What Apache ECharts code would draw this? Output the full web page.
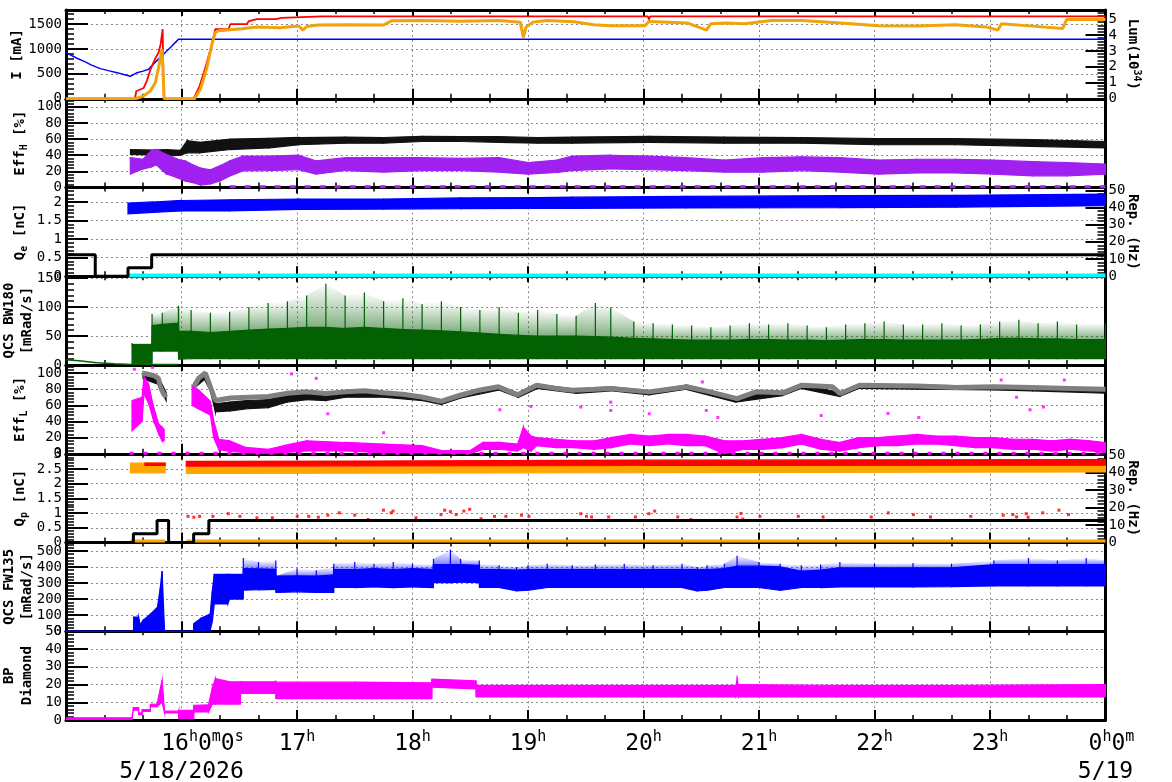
<!DOCTYPE html>
<html>
<head>
<meta charset="utf-8">
<title>Beam monitor 5/18/2026</title>
<script src="https://cdn.jsdelivr.net/npm/echarts@6/dist/echarts.min.js"></script>
<style>
  html, body { margin: 0; padding: 0; background: #fff; }
  #chart { width: 1172px; height: 782px; }
</style>
</head>
<body>
<div id="chart"></div>
<script>
// x values are minutes after 15:00 on 5/18/2026
const hourTicks = [60, 120, 180, 240, 300, 360, 420, 480, 540];
const hourNames = ['16', '17', '18', '19', '20', '21', '22', '23', '0'];
const startDate = '5/18/2026';
const endDate = '5/19';

// panel 1: currents [mA] (left) and luminosity [1e34] (right)
const herCurrent = [[0,927],[5.7,813],[10,740],[13,680],[17.8,605],[22,565],[26.5,524],[30,485],[33.4,451],[36.9,524],[40,555],[42.9,591],[46.5,740],[50.7,895],[54.5,1040],[58.5,1197],[540,1197]];
const lerCurrent = [[0,0],[35.8,0],[36.5,150],[37.5,190],[40.3,215],[42,360],[44,600],[46.5,820],[48,920],[49.2,1100],[50.2,1399],[50.8,0],[66.3,0],[69.4,255],[72.4,625],[75.3,1028],[77.6,1399],[84.5,1399],[85.4,1500],[94,1500],[95,1560],[99.2,1600],[109,1600],[112,1625],[133,1653],[302.3,1653],[302.8,1590],[303.5,1653],[540,1653]];
const luminosity = [[0,0],[36,0],[40.3,0.17],[43.8,0.48],[46.4,1.0],[48.1,1.95],[49.9,3.1],[50.6,3.2],[51,0],[66.8,0],[69.8,0.59],[73.2,1.95],[75.8,3.42],[77.6,4.15],[79.3,4.26],[85.4,4.33],[91.3,4.38],[99.2,4.5],[111,4.45],[121,4.56],[123,4.3],[125,4.52],[131,4.62],[145,4.63],[165,4.62],[169,4.88],[185,4.9],[205,4.86],[225,4.9],[236,4.8],[237.6,3.84],[239,4.5],[242.5,4.8],[250,4.9],[264,4.83],[274,4.64],[283,4.58],[300.8,4.58],[302.8,4.84],[322.7,4.75],[332.7,4.3],[335,4.7],[342.6,4.75],[352.6,4.7],[366.5,4.9],[382.4,4.9],[402.3,4.75],[422.2,4.58],[442.1,4.55],[462,4.63],[478,4.5],[484,4.3],[486,4.7],[502,4.55],[517.8,4.4],[519.8,4.96],[540,4.96]];

// panel 2: Eff_H [%], bands [t, low, high]
const effHBlack = [[33.5,41,47],[45.5,40,46.5],[52,39,47],[59.4,40,46],[63,43,58],[69.4,43,56],[85.3,47,60],[105,49,61],[121,53,62],[145,55,62.5],[165,55,62],[185,57,63.5],[205,57,63],[225,56,63],[245,55,62],[263,55,62.5],[303,56,63.5],[342,55,62.5],[382,55,62],[422,53,60.5],[462,53,60.5],[502,51,59.5],[540,49,57]];
const effHPurple = [[33.4,16.5,37],[40,23,35],[44,25,45],[47,28,47],[52,17,41],[58,12,35],[62,8,33],[66,6,28],[70,3,24],[75,4.5,22],[80,8,27],[85,14,33],[92,20.7,39],[105,21,39],[121,22,40],[130,16.5,33],[145,21,37],[165,19,37],[185,21,37],[205,21,36],[225,19,37],[240,16.5,31],[255,18.6,34],[263,21,39],[283,23,40],[303,22,39],[322,21,37],[342,19,34],[362,19,37],[382,21,38],[402,19,37],[422,16.5,34],[442,18,35],[462,18,35],[482,16.5,34],[502,14.5,32],[520,14.5,31],[540,16.5,29]];
const effHZero = [[85,0.8],[540,0.8]];

// panel 3: Q_e [nC] band (left), injection rate [Hz] (right)
const qeBand = [[32.2,1.68,1.97],[45,1.72,2.0],[60,1.76,2.04],[85,1.76,2.06],[121,1.8,2.08],[165,1.81,2.08],[205,1.82,2.11],[245,1.83,2.12],[263,1.83,2.13],[322,1.84,2.15],[402,1.85,2.17],[462,1.86,2.18],[540,1.9,2.21]];
const repE = [[0,12.5],[15.2,12.5],[15.2,0],[32.2,0],[32.2,5],[44.5,5],[44.5,12.5],[540,12.5]];
const repECyan = [[32.2,0.4],[540,0.4]];

// panel 4: QCS BW180 [mRad/s], [t, low, high, peak]
const bw180Decay = [[0,9],[8,7],[16,4],[25,2],[34.3,1],[58.5,1]];
const bw180 = [[34.3,2,35,38],[44.6,2,35,38],[44.7,24,68,88],[50,24,70,90],[58.4,24,72,102],[58.5,10,58,100],[65,11,58,95],[75,11,56,90],[85,11,58,92],[95,11,60,100],[105,11,62,107],[115,11,63,110],[125,11,65,120],[135,11,65,140],[145,11,63,120],[155,11,65,125],[165,11,63,110],[175,11,61,115],[185,11,60,105],[195,11,59,110],[205,11,57,100],[215,11,55,95],[225,11,53,100],[235,11,51,90],[245,11,50,95],[255,11,50,88],[265,11,50,85],[275,11,49,107],[283,11,48,99],[295,11,46,75],[305,11,45,72],[315,11,44,70],[325,11,43,68],[335,11,43,65],[345,11,43,68],[355,11,44,72],[365,11,44,70],[375,11,43,72],[385,11,43,68],[395,11,42,65],[405,11,43,70],[415,11,44,72],[425,11,44,75],[435,11,43,70],[445,11,43,70],[455,11,43,72],[465,11,43,68],[475,11,44,70],[485,11,46,75],[495,11,46,78],[505,11,45,72],[515,11,45,75],[525,11,44,70],[540,11,44,72]];

// panel 5: Eff_L [%]
const effLGray = [[39.5,100],[45.5,97],[48.1,93],[49,83],[50.5,75],[52,70],null,[66.4,83],[68.9,93.6],[72.4,100],[75,83],[77.6,66],[80,67],[85.3,69],[95.2,70],[105.2,71],[115.1,75],[125.1,76.7],[135,74.6],[145,76.7],[155,78],[164.9,75.5],[174.9,73.8],[184.8,70.4],[194.8,65],[204.7,72.5],[214.7,78.8],[224.6,83],[234.6,73],[244.5,85],[254.5,81],[263,78.8],[274.4,80],[283,81],[303,76.7],[322.6,83],[334.5,76.7],[348.6,68.3],[358.4,76.7],[372.3,75.5],[382.3,85],[398.2,83],[402.2,74.6],[412.2,85],[442,84],[461.9,82],[481.8,83],[501.7,82],[521.6,81],[540,80]];
const effLBlack = [[40,93,99],[48,86,95],[52,66,76],null,[66.4,81,88],[72,92,100],[75,78,86],[77.6,52,62],[85,53,64],[95,56,66],[105,57,67],[115,64,73],[125,67,75],[135,66,73],[145,70,76],[165,70,76],[185,66,71],[195,61,66],[205,69,74],[225,79,84],[235,70,75],[245,81,86],[265,75,80],[283,78,83],[303,73,78],[322,80,85],[348,64,70],[372,72,77],[382,81,86],[402,71,76],[412,81,86],[442,80,85],[482,79,84],[502,78,83],[540,75,80]];
const effLMagenta = [[34.3,28.5,66],[39.5,40,70],[40.5,74,95.6],[43,62,85],[45.5,41,58],[48.1,25,37],[49.9,16,33],[51,16,30],null,[65.5,60,85],[69.4,55,78],[75,48,65],[76.7,20,41],[79.4,5,18],[85,3,16],[93.2,1.3,8],[105,0,5.5],[113,1.3,10],[125,3.4,16],[145,3.4,14],[165,1.3,12],[185,1.3,10],[195,0,4],[210,0,4],[216.6,5.5,14],[225,5.5,14],[234.6,3.4,12],[237.6,7.5,33],[241.5,3.4,22],[244.5,10,20],[254.5,7.5,18],[264.4,7.5,16],[274.4,5.5,16],[283,7.5,20],[293,12,24],[303,10,22],[313,12,24],[322,10,24],[332,10,22],[342,0,16],[352,5.5,16],[362,5.5,18],[372,7.5,20],[382,12,24],[392,5.5,18],[402,3.4,14],[412,7.5,20],[422,10,20],[432,10,22],[442,12,24],[452,12,22],[462,10,22],[472,7.5,20],[482,7.5,20],[492,5.5,18],[502,5.5,18],[512,3.4,16],[522,5.5,18],[532,3.4,16],[540,1.3,14]];
const effLOutliers = [[35.5,104.8],[44.9,107],[117.1,99],[130,93.5],[136,49.5],[165,26],[225.4,54.5],[241.5,58.7],[267.4,57.9],[283,64],[283,53.7],[303,49.5],[330.6,89],[332.6,53.7],[338.6,45],[392.3,47.4],[427,50],[443,45],[485.8,91.4],[493.8,70],[500.8,54.5],[507.8,58],[518.6,91.4]];
const effLZero = [[33,0.6],[540,0.6]];

// panel 6: Q_p [nC] (left), injection rate [Hz] (right)
const qpOrange = [[33.5,2.37,2.7],[51.5,2.37,2.7],null,[62.5,2.35,2.64],[150,2.36,2.64],[300,2.38,2.65],[540,2.4,2.66]];
const qpRed = [[41,2.62,2.7],[51.5,2.62,2.7],null,[62.5,2.6,2.76],[150,2.61,2.77],[300,2.62,2.8],[540,2.63,2.82]];
const qpOrangeLow = [[33.5,0.05],[51.5,0.05],null,[62.5,0.05],[540,0.05]];
const repP = [[0,0],[35,0],[35,5],[47.3,5],[47.3,12.5],[53.3,12.5],[53.3,0],[66.3,0],[66.3,5],[74.2,5],[74.2,12.5],[540,12.5]];
const qpRedDots = [[63.4,0.89],[66.4,0.86],[69.4,0.89],[76.3,0.89],[84.3,0.98],[90.3,0.89],[99.2,0.84],[107.2,0.84],[120.1,0.89],[126.1,0.89],[131.1,0.86],[136,0.93],[142,1.01],[150,0.93],[156.9,0.78],[164.9,1.1],[168.9,1.01],[169.9,1.07],[181.8,0.84],[194.8,0.95],[196.7,1.1],[199.7,1.05],[202.7,0.95],[206.7,1.07],[209.7,1.13],[215.6,0.81],[222.6,0.89],[228.5,0.89],[236.6,0.93],[240.5,0.89],[267.4,0.98],[270.4,0.89],[273,0.87],[281.9,0.87],[295.8,0.87],[302.8,0.98],[305.8,1.07],[317.8,0.87],[324.7,0.78],[348.6,0.87],[350.6,0.99],[351.6,0.8],[360.5,0.89],[380.4,0.89],[393.3,0.87],[418.3,0.87],[427.2,1.01],[440.2,0.95],[449.1,0.87],[470,0.89],[486.9,0.93],[491.9,0.95],[493.8,0.87],[498.8,0.98],[499.8,0.86],[507.4,1.01],[515.8,1.1],[520.8,0.95]];

// panel 7: QCS FW135 [mRad/s], [t, low, high, peak]
const fw135Off = [[0,0],[35.1,0],null,[51.2,0],[66.3,0]];
const fw135 = [[35.1,3,88,null],[37.7,3,88,null],[38.6,3,40,null],[40,4,67,null],[44,5,108,null],[47.5,6,149,null],[49,8,272,null],[49.9,10,374,null],[51.2,0,0,null],null,[66.3,2,47,null],[70,4,80,null],[74.9,6,108,null],[76,60,250,null],[77,170,354,null],[84,170,354,null],[85,200,354,null],[92,200,354,null],[92.1,255,390,456],[100,258,388,430],[109,260,385,440],[109.1,241,343,null],[120,245,345,390],[130,241,343,380],[139,241,350,400],[139.1,272,384,420],[150,272,384,430],[160,275,390,420],[170,272,384,430],[180,275,390,420],[190.8,272,384,420],[190.9,303,415,450],[199.7,303,415,507],[205,305,415,450],[214.7,303,410,440],[214.8,272,384,420],[225,272,384,410],[234,251,380,400],[240,255,384,410],[250,272,384,420],[263,272,384,410],[275,272,384,415],[290,272,384,420],[305,272,384,410],[320,272,384,420],[328,251,384,400],[333,255,384,410],[342,272,390,420],[348.6,272,405,470],[360,272,405,430],[371,255,400,420],[382,272,374,410],[392,272,380,415],[402,276,395,430],[420,276,395,420],[440,276,395,425],[460,278,395,420],[482,282,415,440],[500,282,415,456],[515,282,415,440],[530,282,415,456],[540,282,415,440]];

// panel 8: BP Diamond, [t, low, high]
const bpDiamond = [[0,0.3,1.2],[34.3,0.3,1.2],[35,5.5,7],[37.7,5.5,7],[37.8,3,4],[39.5,3,4],[39.6,4.8,5.8],[43.8,4.8,5.8],[43.9,7.5,8.8],[47.3,7.5,9],[49.9,10,22.5],[51.2,4,5],[58.5,4,5],[58.6,0.8,5.4],[66.3,0.8,5.4],[66.4,4.5,8.3],[74,4.5,8.5],[76,9,18],[77.6,9,23.3],[85,9,21.5],[90.6,9,21.5],[90.7,15,21.5],[109,15,21.5],[109.1,12,21.3],[150,12,21.3],[190,12,21],[190.1,18.5,23],[213,17.5,22],[213.1,13,19.5],[263,13,19.5],[300,13,19.5],[348,13,19.5],[348.6,14,22.7],[349.2,13,20],[400,13,19.5],[460,13,19.5],[540,13,20]];

const MONO = 'DejaVu Sans Mono';
const TOP = 10, PH = 88.75, LEFT = 66, RIGHT = 66.5;

const panels = [
  { name: '{b|I [mA]}', gap: 40, min: 0, max: 1782, interval: 500,
    right: { name: '{b|Lum(10}{sp|34}{b|)}', min: 0, max: 5.56, interval: 1 } },
  { name: '{b|Eff}{sb|H}{b| [%]}', gap: 37, min: 0, max: 110, interval: 20 },
  { name: '{b|Q}{sb|e}{b| [nC]}', gap: 37, min: 0, max: 2.39, interval: 0.5,
    right: { name: '{b|Rep. (Hz)}', min: 0, max: 51.6, interval: 10 } },
  { name: '{b|QCS BW180}\n{b|[mRad/s]}', gap: 30, min: 0, max: 153, interval: 50 },
  { name: '{b|Eff}{sb|L}{b| [%]}', gap: 37, min: 0, max: 110, interval: 20 },
  { name: '{b|Q}{sb|p}{b| [nC]}', gap: 37, min: 0, max: 3.02, interval: 0.5,
    right: { name: '{b|Rep. (Hz)}', min: 0, max: 50.7, interval: 10 } },
  { name: '{b|QCS FW135}\n{b|[mRad/s]}', gap: 30, min: 0, max: 552, interval: 100 },
  { name: '{b|BP}\n{b|Diamond}', gap: 30, min: 0, max: 50, interval: 10, showMax: true }
];

const nameRich = {
  b: { fontFamily: MONO, fontSize: 14, fontWeight: 'bold', color: '#000', lineHeight: 18 },
  sb: { fontFamily: MONO, fontSize: 10, fontWeight: 'bold', color: '#000', verticalAlign: 'bottom', lineHeight: 10 },
  sp: { fontFamily: MONO, fontSize: 10, fontWeight: 'bold', color: '#000', verticalAlign: 'top', lineHeight: 10 }
};
const dotted = { color: '#8a8a8a', width: 1, type: [2, 3] };
const plainNumber = function (v) { return String(v); };

const grids = [], xAxes = [], yAxes = [];
panels.forEach(function (p, i) {
  const last = i === panels.length - 1;
  grids.push({ left: LEFT, right: RIGHT, top: TOP + i * PH, height: PH, outerBoundsMode: 'none' });
  xAxes.push({
    type: 'value', gridIndex: i, position: 'bottom', min: 0, max: 540, interval: 60,
    axisLine: { onZero: false, lineStyle: { color: '#000', width: 3 } },
    axisTick: { inside: true, length: 10, lineStyle: { color: '#000', width: 2 } },
    minorTick: { show: true, splitNumber: 3, length: 5, lineStyle: { color: '#000', width: 1.5 } },
    splitLine: { show: true, lineStyle: dotted },
    axisLabel: {
      show: last, margin: 10, showMinLabel: true, showMaxLabel: true,
      formatter: function (v) {
        const k = hourTicks.indexOf(v);
        if (k < 0) return '';
        if (k === 0) return '{pad|}{n|' + hourNames[k] + '}{s|h}{n|0}{s|m}{n|0}{s|s}\n{d|' + startDate + '}';
        if (k === hourTicks.length - 1) return '{pad2|}{n|' + hourNames[k] + '}{s|h}{n|0}{s|m}\n{d|' + endDate + '}';
        return '{n|' + hourNames[k] + '}{s|h}';
      },
      rich: {
        n: { fontFamily: MONO, fontSize: 23, color: '#000', lineHeight: 28 },
        s: { fontFamily: MONO, fontSize: 15, color: '#000', verticalAlign: 'top', lineHeight: 14 },
        d: { fontFamily: MONO, fontSize: 23, color: '#000', lineHeight: 28 },
        pad: { width: 42 },
        pad2: { width: 12 }
      }
    }
  });
  xAxes.push({
    type: 'value', gridIndex: i, position: 'top', min: 0, max: 540, interval: 60,
    axisLine: { onZero: false, lineStyle: { color: '#000', width: 3 } },
    axisTick: { inside: true, length: 6, lineStyle: { color: '#000', width: 2 } },
    minorTick: { show: true, splitNumber: 3, length: 4, lineStyle: { color: '#000', width: 1.5 } },
    splitLine: { show: false }, axisLabel: { show: false }
  });
  yAxes.push({
    type: 'value', gridIndex: i, position: 'left', min: p.min, max: p.max, interval: p.interval,
    axisLine: { show: true, onZero: false, lineStyle: { color: '#000', width: 3 } },
    axisTick: { inside: true, length: 22, lineStyle: { color: '#000', width: 2 } },
    minorTick: { show: true, splitNumber: 5, length: 8, lineStyle: { color: '#000', width: 1.5 } },
    splitLine: { show: true, lineStyle: dotted },
    axisLabel: { color: '#000', fontFamily: MONO, fontSize: 14, margin: 4, formatter: plainNumber,
      showMinLabel: true, showMaxLabel: !!p.showMax },
    name: p.name, nameLocation: 'middle', nameRotate: 90, nameGap: p.gap, nameMoveOverlap: false,
    nameTextStyle: { fontFamily: MONO, color: '#000', rich: nameRich }
  });
  const r = p.right;
  yAxes.push({
    type: 'value', gridIndex: i, position: 'right',
    min: r ? r.min : 0, max: r ? r.max : 1, interval: r ? r.interval : 1,
    axisLine: { show: true, onZero: false, lineStyle: { color: '#000', width: 3 } },
    axisTick: { show: !!r, inside: true, length: 20, lineStyle: { color: '#000', width: 2 } },
    minorTick: { show: !!r, splitNumber: 5, length: 8, lineStyle: { color: '#000', width: 1.5 } },
    splitLine: { show: false },
    axisLabel: { show: !!r, color: '#000', fontFamily: MONO, fontSize: 14, margin: 3, formatter: plainNumber,
      showMinLabel: true, showMaxLabel: false },
    name: r ? r.name : '', nameLocation: 'middle', nameRotate: -90, nameGap: 18, nameMoveOverlap: false,
    nameTextStyle: { fontFamily: MONO, color: '#000', rich: nameRich }
  });
});

function gaps(pts) {
  return pts.map(function (q) { return q === null ? ['-', '-'] : q; });
}
function line(i, pts, color, width, right, extra) {
  return Object.assign({
    type: 'line', xAxisIndex: 2 * i, yAxisIndex: right ? 2 * i + 1 : 2 * i,
    data: gaps(pts), showSymbol: false, symbol: 'none', silent: true, clip: true,
    lineStyle: { color: color, width: width }, itemStyle: { color: color }
  }, extra || {});
}
// filled band between low (col 1) and high (col 2), one quad per neighbouring pair
function band(i, pts, color, right, fillFn) {
  const items = [];
  for (let k = 0; k + 1 < pts.length; k++) {
    const a = pts[k], b = pts[k + 1];
    if (a && b) items.push([a[0], a[1], a[2], b[0], b[1], b[2]]);
  }
  return {
    type: 'custom', xAxisIndex: 2 * i, yAxisIndex: right ? 2 * i + 1 : 2 * i,
    clip: true, silent: true, encode: { x: [0, 3], y: [1, 2, 4, 5] }, data: items,
    renderItem: function (params, api) {
      const pa = api.coord([api.value(0), api.value(2)]);
      const pb = api.coord([api.value(3), api.value(5)]);
      const pc = api.coord([api.value(3), api.value(4)]);
      const pd = api.coord([api.value(0), api.value(1)]);
      const style = fillFn ? { fill: fillFn() } : { fill: color, stroke: color, lineWidth: 1.2 };
      return { type: 'polygon', shape: { points: [pa, pb, pc, pd] }, style: style };
    }
  };
}
// fading haze between the dense top (col 2) and the spike tops (col 3)
function haze(i, pts, rgb) {
  const upper = pts.map(function (q) { return q && [q[0], q[2], q[3] != null ? q[3] : q[2]]; });
  return band(i, upper, null, false, function () {
    return new echarts.graphic.LinearGradient(0, 0, 0, 1, [
      { offset: 0, color: 'rgba(' + rgb + ',0)' },
      { offset: 1, color: 'rgba(' + rgb + ',0.5)' }
    ]);
  });
}
function spikes(i, pts, color) {
  const items = pts.filter(function (q) { return q && q[3] != null; })
    .map(function (q) { return [q[0], q[2], q[3]]; });
  return {
    type: 'custom', xAxisIndex: 2 * i, yAxisIndex: 2 * i,
    clip: true, silent: true, encode: { x: 0, y: [1, 2] }, data: items,
    renderItem: function (params, api) {
      const p0 = api.coord([api.value(0), api.value(1)]);
      const p1 = api.coord([api.value(0), api.value(2)]);
      return { type: 'line', shape: { x1: p0[0], y1: p0[1], x2: p1[0], y2: p1[1] }, style: { stroke: color, lineWidth: 1.2 } };
    }
  };
}
function dots(i, pts, color, size) {
  return {
    type: 'scatter', xAxisIndex: 2 * i, yAxisIndex: 2 * i, data: pts, silent: true, clip: true,
    symbol: 'rect', symbolSize: size, itemStyle: { color: color }
  };
}

const series = [
  line(0, herCurrent, '#0000ff', 1.5, false),
  line(0, lerCurrent, '#ff0000', 1.8, false),
  line(0, luminosity, '#f0a30a', 3, true),

  band(1, effHBlack, '#111111', false),
  band(1, effHPurple, '#a020f0', false),
  line(1, effHZero, '#a020f0', 3, false, { lineStyle: { color: '#a020f0', width: 3, type: [6, 9] } }),

  band(2, qeBand, '#0000ff', false),
  line(2, repECyan, '#00ffff', 4, true),
  line(2, repE, '#000000', 3, true),

  line(3, bw180Decay, '#006400', 1.5, false),
  haze(3, bw180, '3,96,3'),
  band(3, bw180, '#036003', false),
  spikes(3, bw180, '#036003'),

  band(4, effLBlack, '#111111', false),
  line(4, effLGray, '#808080', 5, false),
  band(4, effLMagenta, '#ff00ff', false),
  dots(4, effLOutliers, '#ff00ff', 3),
  line(4, effLZero, '#ff00ff', 3, false, { lineStyle: { color: '#ff00ff', width: 3, type: [4, 10] } }),

  band(5, qpOrange, '#ffa500', false),
  band(5, qpRed, '#ff0000', false),
  line(5, qpOrangeLow, '#ffa500', 3, false),
  dots(5, qpRedDots, '#ff0000', 3),
  line(5, repP, '#000000', 3, true),

  line(6, fw135Off, '#0000ff', 1.5, false),
  haze(6, fw135, '0,0,255'),
  band(6, fw135, '#0000ff', false),
  spikes(6, fw135, '#0000ff'),

  band(7, bpDiamond, '#ff00ff', false)
];

const chart = echarts.init(document.getElementById('chart'));
chart.setOption({
  animation: false,
  backgroundColor: '#ffffff',
  textStyle: { fontFamily: MONO },
  grid: grids,
  xAxis: xAxes,
  yAxis: yAxes,
  series: series
});
</script>
</body>
</html>
